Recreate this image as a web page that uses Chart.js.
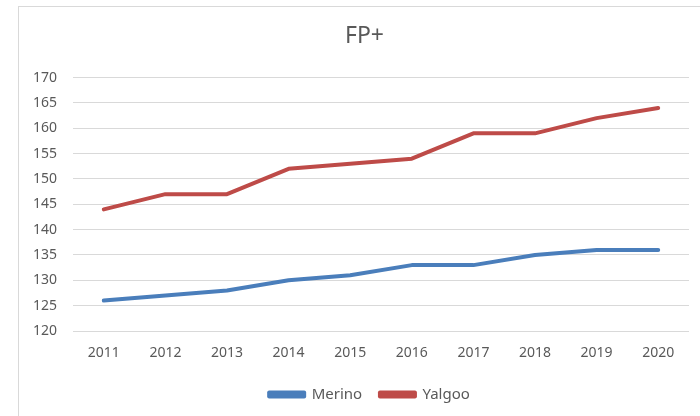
<!DOCTYPE html>
<html><head><meta charset="utf-8">
<script src="https://cdn.jsdelivr.net/npm/chart.js@4"></script>
<style>
html,body{margin:0;padding:0;background:#fff;overflow:hidden;width:700px;height:416px;}
#frame{position:absolute;left:18px;top:6px;width:720px;height:440px;border:1px solid #d9d9d9;box-sizing:border-box;}
#wrap{position:absolute;left:0;top:0;width:700px;height:416px;}
</style></head>
<body>
<div id="frame"></div>
<div id="wrap"><canvas id="c" width="700" height="416"></canvas></div>
<script>
const categories = ["2011","2012","2013","2014","2015","2016","2017","2018","2019","2020"];
const merino = [126,127,128,130,131,133,133,135,136,136];
const yalgoo = [144,147,147,152,153,154,159,159,162,164];
const yTicks = [120,125,130,135,140,145,150,155,160,165,170];

Chart.defaults.font.family = "'Noto Sans', sans-serif";
Chart.defaults.color = "#595959";

const shiftBoxes = {
  id:'shiftBoxes',
  afterLayout(chart){
    if(chart.legend){ chart.legend.left += 16; chart.legend.right += 16; }
    if(chart.titleBlock){ chart.titleBlock.left += 11; chart.titleBlock.right += 11; }
  }
};

new Chart(document.getElementById('c'), {
  type: 'line',
  data: {
    labels: categories,
    datasets: [
      {label:'Merino', data: merino, borderColor:'#4a7ebb', backgroundColor:'#4a7ebb', borderWidth:4, pointRadius:0, tension:0, borderCapStyle:'round', borderJoinStyle:'round'},
      {label:'Yalgoo', data: yalgoo, borderColor:'#be4b48', backgroundColor:'#be4b48', borderWidth:4, pointRadius:0, tension:0, borderCapStyle:'round', borderJoinStyle:'round'}
    ]
  },
  plugins:[shiftBoxes],
  options: {
    responsive:false,
    animation:false,
    layout:{padding:{left:18, right:11, top:0, bottom:4}},
    plugins:{
      title:{display:true, text:'FP+', color:'#595959', font:{size:23, weight:'normal'}, padding:{top:23, bottom:27}},
      legend:{position:'bottom', labels:{boxWidth:35, boxHeight:4, font:{size:15}, color:'#595959', padding:10,
        generateLabels:(chart)=>{
          const items = Chart.defaults.plugins.legend.labels.generateLabels(chart);
          items.forEach((it,i)=>{ if(i < items.length-1) it.text = it.text + '  '; });
          return items;
        }}},
      tooltip:{enabled:false}
    },
    scales:{
      x:{offset:true, grid:{display:false, drawTicks:false}, border:{display:false},
         afterFit:(s)=>{s.height = 46;},
         ticks:{font:{size:14}, padding:14, color:'#595959'}},
      y:{min:120, max:170, afterBuildTicks:(s)=>{s.ticks = yTicks.map(v=>({value:v}));},
         afterFit:(s)=>{s.width = 55;},
         grid:{color:'#d9d9d9', drawTicks:false}, border:{display:false},
         ticks:{font:{size:14}, padding:16, color:'#595959'}}
    }
  }
});
</script>
</body></html>
